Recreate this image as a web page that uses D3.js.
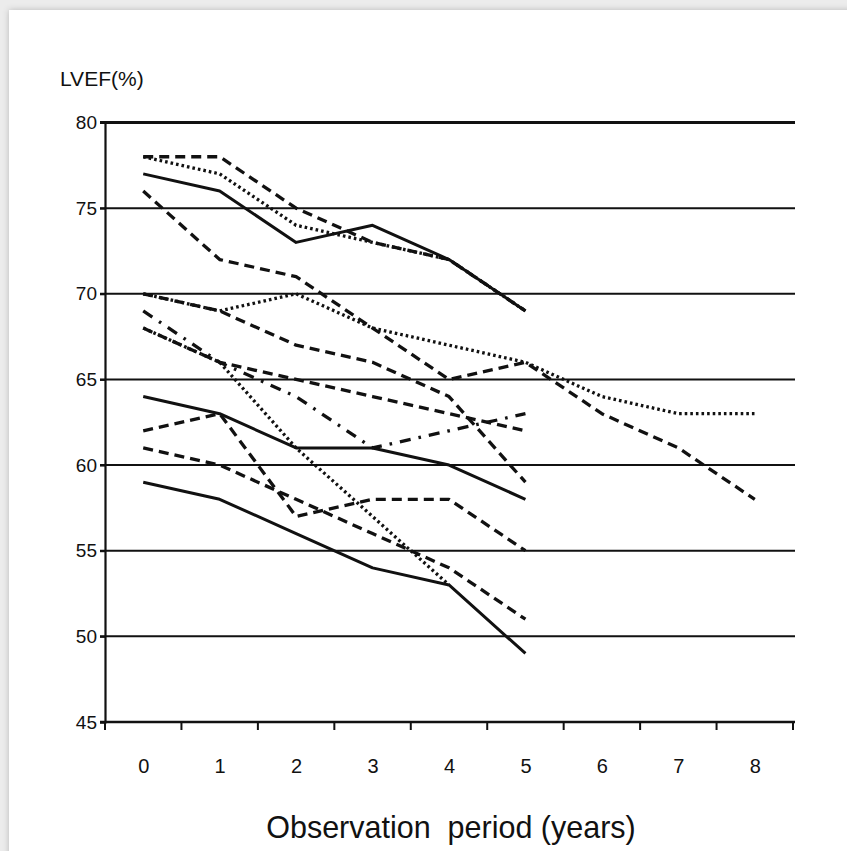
<html>
<head>
<meta charset="utf-8">
<title>LVEF follow-up</title>
<style>
  body { margin: 0; background: #ececec; }
  svg { display: block; }
  text { font-family: "Liberation Sans", Arial, sans-serif; fill: #111; }
  .y.axis .tick text { font-size: 19px !important; }
  .x.axis .tick text { font-size: 20px !important; }
</style>
</head>
<body>
<div id="chart"></div>
<script src="https://d3js.org/d3.v7.min.js"></script>
<script>
// ---- data ----
const years = [0, 1, 2, 3, 4, 5, 6, 7, 8];
const yTicks = [45, 50, 55, 60, 65, 70, 75, 80];

const p1 = [77, 76, 73, 74, 72, 69];
const p2 = [78, 78, 75, 73, 72, 69];
const p3 = [78, 77, 74, 73, 72, 69];
const p4 = [76, 72, 71, 68, 65, 66, 63, 61, 58];
const p5 = [70, 69, 67, 66, 64, 59];
const p6 = [70, 69, 70, 68, 67, 66, 64, 63, 63];
const p7 = [69, 66, 64, 61, 62, 63];
const p8 = [68, 66, 65, 64, 63, 62];
const p9 = [68, 66, 61, 57, 53];
const p10 = [64, 63, 61, 61, 60, 58];
const p11 = [62, 63, 57, 58, 58, 55];
const p12 = [61, 60, 58, 56, 54, 51];
const p13 = [59, 58, 56, 54, 53, 49];

const patients = [p1, p2, p3, p4, p5, p6, p7, p8, p9, p10, p11, p12, p13];
const patientStyle = ["solid", "dashed", "dotted", "dashed", "dashed", "dotted", "dashdot",
                      "dashed", "dotted", "solid", "dashed", "dashed", "solid"];

// ---- drawing ----
const W = 847, H = 851;
const dash = { solid: null, dashed: "10,6", dotted: "2.6,3", dashdot: "11,8,2.6,8" };

let svg = d3.select("#chart").append("svg")
    .attr("width", W)
    .attr("height", H);

let defs = svg.append("defs");
let f = defs.append("filter").attr("id", "shadow")
    .attr("x", "-5%").attr("y", "-5%").attr("width", "110%").attr("height", "110%");
f.append("feDropShadow").attr("dx", 0).attr("dy", 0).attr("stdDeviation", 3)
    .attr("flood-color", "#000").attr("flood-opacity", 0.22);

// card
svg.append("rect")
    .attr("x", 9).attr("y", 10)
    .attr("width", W).attr("height", H)
    .attr("fill", "#fff")
    .attr("filter", "url(#shadow)");

let plotL = 105, plotR = 793, plotT = 122.5, plotB = 722;

let xBand = d3.scaleBand().domain(years).range([plotL, plotR]);
let xPt = d3.scalePoint().domain(years).range([plotL, plotR]).padding(0.5);
let y = d3.scaleLinear().domain([45, 80]).range([plotB, plotT]);

// horizontal grid
svg.append("g").selectAll("line")
  .data(yTicks.filter(d => d > 45)).enter()
  .append("line")
    .attr("x1", plotL - 5).attr("x2", plotR + 2)
    .attr("y1", d => y(d)).attr("y2", d => y(d))
    .attr("stroke", "#111")
    .attr("stroke-width", d => d === 80 ? 3 : 2);

// y axis
let yAxis = svg.append("g")
    .attr("class", "y axis")
    .attr("transform", "translate(" + plotL + ",0)")
    .call(d3.axisLeft(y).tickValues(yTicks).tickSize(5).tickPadding(3));
yAxis.select(".domain").attr("stroke", "#111").attr("stroke-width", 2.2);
yAxis.selectAll(".tick line").attr("stroke", "#111").attr("stroke-width", 2);
yAxis.selectAll(".tick text").attr("fill", "#111");

// x axis (labels centered in the bands, ticks on band edges)
let xAxis = svg.append("g")
    .attr("class", "x axis")
    .attr("transform", "translate(0," + plotB + ")")
    .call(d3.axisBottom(xPt).tickSize(0).tickPadding(37));
xAxis.select(".domain").remove();
xAxis.selectAll(".tick text").attr("fill", "#111");

svg.append("line")
    .attr("x1", plotL - 5).attr("x2", plotR + 2)
    .attr("y1", plotB).attr("y2", plotB)
    .attr("stroke", "#111").attr("stroke-width", 2.4);

svg.append("g").selectAll("line")
  .data(years.map(d => xBand(d)).concat([plotR])).enter()
  .append("line")
    .attr("x1", d => d).attr("x2", d => d)
    .attr("y1", plotB).attr("y2", plotB + 8)
    .attr("stroke", "#111").attr("stroke-width", 2);

// patient lines
let line = d3.line()
    .x((d, i) => xPt(years[i]))
    .y(d => y(d));

svg.append("g").selectAll("path")
  .data(patients).enter()
  .append("path")
    .attr("d", d => line(d))
    .attr("fill", "none")
    .attr("stroke", "#111")
    .attr("stroke-width", (d, i) => patientStyle[i] === "solid" ? 3 : 3.3)
    .attr("stroke-linejoin", "round")
    .attr("stroke-dasharray", (d, i) => dash[patientStyle[i]]);

// titles
svg.append("text")
    .attr("x", 60).attr("y", 86)
    .style("font-size", "21px")
    .text("LVEF(%)");

svg.append("text")
    .attr("x", 451).attr("y", 838)
    .attr("text-anchor", "middle")
    .style("font-size", "30.5px")
    .attr("xml:space", "preserve")
    .text("Observation  period (years)");
</script>
</body>
</html>
